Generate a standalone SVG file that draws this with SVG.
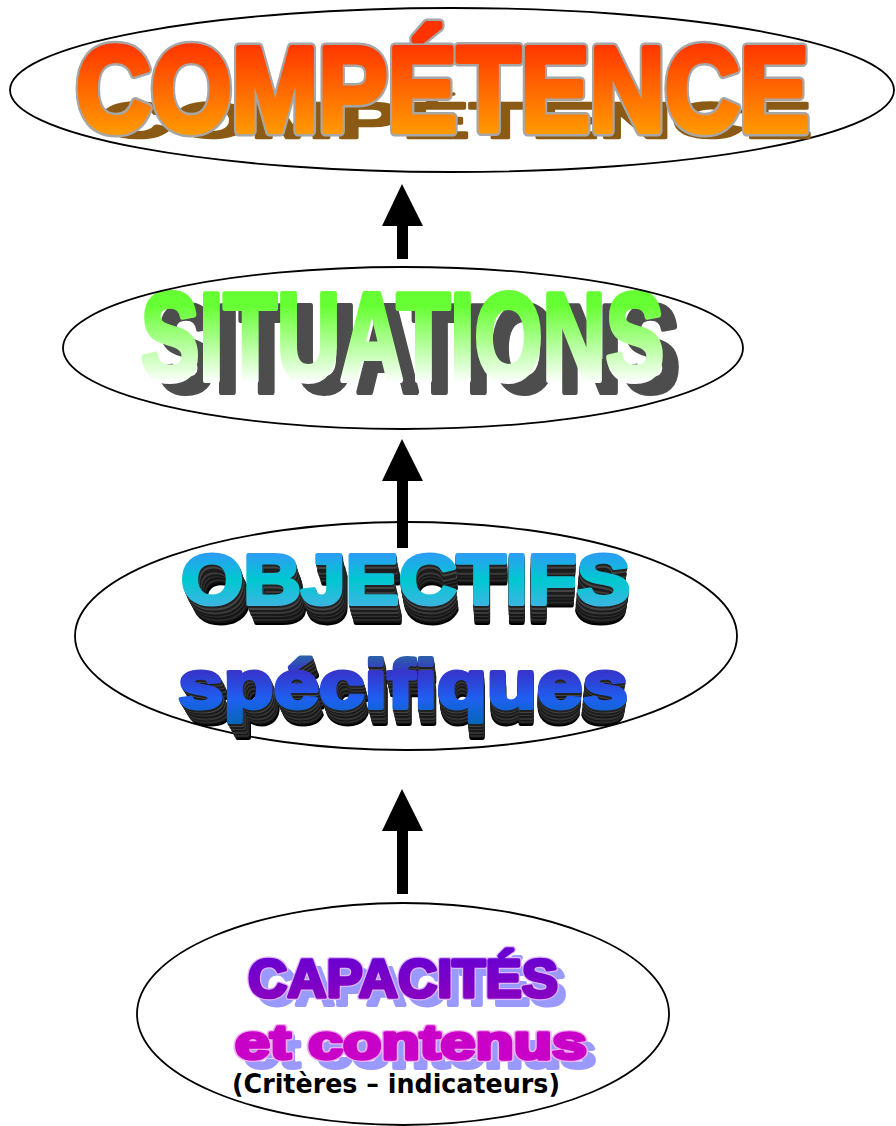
<svg xmlns="http://www.w3.org/2000/svg" xmlns:xlink="http://www.w3.org/1999/xlink" width="896" height="1126" viewBox="0 0 896 1126">
<style>
.ell{fill:none;stroke:#000;stroke-width:1.8}
.big{font-family:"Liberation Sans",Arial,sans-serif;font-weight:bold;stroke-linejoin:round}
.small{font-family:"DejaVu Sans","Liberation Sans",sans-serif;font-weight:bold}
.arrow{fill:#000}
</style>
<defs>
<linearGradient id="gComp" gradientUnits="userSpaceOnUse" x1="0" y1="42" x2="0" y2="133">
<stop offset="0" stop-color="#FF3300"/><stop offset="1" stop-color="#FF9900"/>
</linearGradient>
<linearGradient id="gSit" gradientUnits="userSpaceOnUse" x1="0" y1="289" x2="0" y2="383">
<stop offset="0" stop-color="#66FF33"/><stop offset="0.18" stop-color="#66FF33"/><stop offset="1" stop-color="#FFFFFF"/>
</linearGradient>
<linearGradient id="gObj" gradientUnits="userSpaceOnUse" x1="0" y1="553" x2="0" y2="606">
<stop offset="0" stop-color="#2E9CF5"/><stop offset="0.5" stop-color="#00C8D0"/><stop offset="1" stop-color="#3BB5E2"/>
</linearGradient>
<linearGradient id="gSpe" gradientUnits="userSpaceOnUse" x1="0" y1="657" x2="0" y2="727">
<stop offset="0" stop-color="#2D5FA8"/><stop offset="0.22" stop-color="#3535CC"/><stop offset="0.6" stop-color="#1E60F0"/><stop offset="1" stop-color="#0068B0"/>
</linearGradient>
<linearGradient id="gCap" gradientUnits="userSpaceOnUse" x1="0" y1="958" x2="0" y2="999">
<stop offset="0" stop-color="#6A00D0"/><stop offset="1" stop-color="#8800C0"/>
</linearGradient>
<text id="tComp" class="big" x="76" y="131" font-size="121" textLength="733" lengthAdjust="spacingAndGlyphs">COMPÉTENCE</text>
<text id="tSit" class="big" x="141" y="380" font-size="124" textLength="523" lengthAdjust="spacingAndGlyphs">SITUATIONS</text>
<g id="tObjAll">
<text class="big" x="181" y="604" font-size="70" textLength="449" lengthAdjust="spacingAndGlyphs">OBJECTIFS</text>
<text class="big" x="178" y="708" font-size="69" textLength="450" lengthAdjust="spacingAndGlyphs">spécifiques</text>
</g>
<text id="tCap" class="big" x="248" y="997" font-size="54" textLength="310" lengthAdjust="spacingAndGlyphs">CAPACITÉS</text>
<text id="tCont" class="big" x="235" y="1059" font-size="48" textLength="352" lengthAdjust="spacingAndGlyphs">et contenus</text>
</defs>

<g id="node-competence">
<ellipse class="ell" cx="452" cy="90" rx="442" ry="82"/>
<use xlink:href="#tComp" fill="#8B5A14" stroke="#8B5A14" stroke-width="6" transform="matrix(0.973,0,0,0.418,25,83)"/>
<use xlink:href="#tComp" fill="#A6A6A6" stroke="#A6A6A6" stroke-width="11"/>
<use xlink:href="#tComp" fill="url(#gComp)" stroke="url(#gComp)" stroke-width="6"/>
</g>

<g id="node-situations">
<use xlink:href="#tSit" fill="#4D4D4D" stroke="#4D4D4D" stroke-width="6" transform="translate(16,12)"/>
<use xlink:href="#tSit" fill="url(#gSit)" stroke="url(#gSit)" stroke-width="6"/>
<ellipse class="ell" cx="403" cy="348" rx="340" ry="81"/>
</g>

<g id="node-objectifs">
<ellipse class="ell" cx="406" cy="636" rx="331" ry="114"/>
<g stroke-width="4">
<use xlink:href="#tObjAll" fill="#000" stroke="#000" transform="matrix(0.971,0,0,0.971,15.196,36.569)"/>
<use xlink:href="#tObjAll" fill="#111" stroke="#111" transform="matrix(0.9739,0,0,0.9739,13.676,32.912)"/>
<use xlink:href="#tObjAll" fill="#2a2a2a" stroke="#2a2a2a" transform="matrix(0.9768,0,0,0.9768,12.157,29.255)"/>
<use xlink:href="#tObjAll" fill="#151515" stroke="#151515" transform="matrix(0.9797,0,0,0.9797,10.637,25.598)"/>
<use xlink:href="#tObjAll" fill="#333" stroke="#333" transform="matrix(0.9826,0,0,0.9826,9.118,21.941)"/>
<use xlink:href="#tObjAll" fill="#181818" stroke="#181818" transform="matrix(0.9855,0,0,0.9855,7.598,18.285)"/>
<use xlink:href="#tObjAll" fill="#3a3a3a" stroke="#3a3a3a" transform="matrix(0.9884,0,0,0.9884,6.078,14.628)"/>
<use xlink:href="#tObjAll" fill="#1c1c1c" stroke="#1c1c1c" transform="matrix(0.9913,0,0,0.9913,4.559,10.971)"/>
<use xlink:href="#tObjAll" fill="#444" stroke="#444" transform="matrix(0.9942,0,0,0.9942,3.039,7.314)"/>
<use xlink:href="#tObjAll" fill="#222" stroke="#222" transform="matrix(0.9971,0,0,0.9971,1.52,3.657)"/>
</g>
<text class="big" x="181" y="604" font-size="70" textLength="449" lengthAdjust="spacingAndGlyphs" fill="url(#gObj)" stroke="url(#gObj)" stroke-width="4">OBJECTIFS</text>
<text class="big" x="178" y="708" font-size="69" textLength="450" lengthAdjust="spacingAndGlyphs" fill="url(#gSpe)" stroke="url(#gSpe)" stroke-width="4">spécifiques</text>
</g>

<g id="node-capacites">
<ellipse class="ell" cx="403" cy="1014" rx="266" ry="111"/>
<use xlink:href="#tCap" fill="#9999FF" stroke="#9999FF" stroke-width="4" transform="translate(8,8)"/>
<use xlink:href="#tCont" fill="#9999FF" stroke="#9999FF" stroke-width="4" transform="translate(9,9)"/>
<use xlink:href="#tCap" fill="#DDB8FF" stroke="#DDB8FF" stroke-width="6"/>
<use xlink:href="#tCap" fill="url(#gCap)" stroke="url(#gCap)" stroke-width="3.5"/>
<use xlink:href="#tCont" fill="#F0B0F0" stroke="#F0B0F0" stroke-width="6"/>
<use xlink:href="#tCont" fill="#C800C8" stroke="#C800C8" stroke-width="3.5"/>
<text class="small" x="232" y="1093" font-size="26" textLength="328" lengthAdjust="spacingAndGlyphs" fill="#000">(Critères – indicateurs)</text>
</g>

<g id="connectors">
<polygon class="arrow" points="402,184 423,226 408,226 408,259 397,259 397,226 382,226"/>
<polygon class="arrow" points="402,439 423,481 408,481 408,548 397,548 397,481 382,481"/>
<polygon class="arrow" points="402,789 423,831 408,831 408,894 397,894 397,831 382,831"/>
</g>
</svg>
